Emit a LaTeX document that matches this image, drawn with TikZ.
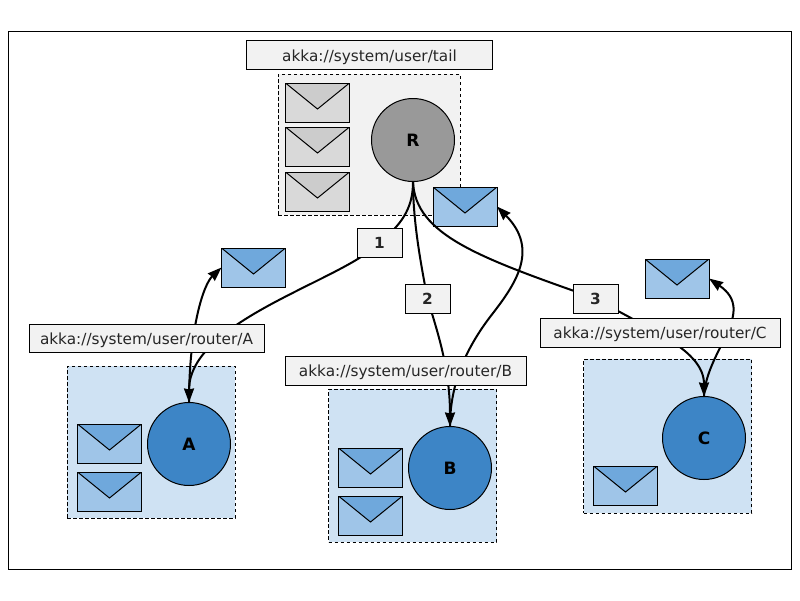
\documentclass[tikz,border=0pt]{standalone}
\usepackage{fontspec}
\setmainfont{DejaVu Sans}
\usepackage{xcolor}
\usepackage{tikz}
\usetikzlibrary{arrows.meta}
\definecolor{lightgray}{HTML}{F2F2F2}
\definecolor{mailgray}{HTML}{D9D9D9}
\definecolor{flapgray}{HTML}{CCCCCC}
\definecolor{actorgray}{HTML}{999999}
\definecolor{lightblue}{HTML}{CFE2F3}
\definecolor{mailblue}{HTML}{9FC5E8}
\definecolor{flapblue}{HTML}{6FA8DC}
\definecolor{actorblue}{HTML}{3D85C6}
\pgfdeclarelayer{front}
\pgfsetlayers{main,front}
\tikzset{
  txt/.style={text=black!85, font=\fontsize{15.3}{17}\selectfont},
  numlabel/.style={draw, fill=lightgray, line width=1pt, inner sep=0pt, outer sep=0pt, txt, minimum width=45pt, minimum height=29pt},
  pathlabel/.style={numlabel, text height=12pt, text depth=0pt},
  actorbox/.style={draw, dashed, dash pattern=on 3.5pt off 2.5pt, line width=1pt, inner sep=0pt, outer sep=0pt, minimum width=168pt},
  actor/.style={draw, circle, line width=1pt, inner sep=0pt, outer sep=0pt, minimum size=83pt, font=\fontsize{17}{19}\selectfont\bfseries},
  mail/.style 2 args={draw, line width=1pt, inner sep=0pt, outer sep=0pt, minimum width=64pt, minimum height=39pt, fill=#1,
    path picture={
      \fill[#2] (path picture bounding box.north west) -- ([yshift=-26pt]path picture bounding box.north) -- (path picture bounding box.north east) -- cycle;
      \draw[line width=1pt] (path picture bounding box.north west) -- ([yshift=-26pt]path picture bounding box.north) -- (path picture bounding box.north east);
    }},
  flow/.style={line width=2pt, >={Stealth[length=14pt,width=10pt,inset=1pt]}}
}
\begin{document}
\begin{tikzpicture}[x=1pt,y=-1pt]
  \useasboundingbox (0,0) rectangle (800,600);
  \draw[line width=1pt] (8.5,31.5) rectangle (791,569);

  % Tail actor with its mailbox
  \node[actorbox, fill=lightgray, minimum width=182pt, minimum height=141pt] (boxR) at (369,144.5) {};
  \node[mail={mailgray}{flapgray}] (mailR1) at (317.5,102.5) {};
  \node[mail={mailgray}{flapgray}] (mailR2) at (317.5,146.5) {};
  \node[mail={mailgray}{flapgray}] (mailR3) at (317.5,191.5) {};
  \node[actor, fill=actorgray] (R) at (413,140) {R};

  % Routees
  \node[actorbox, fill=lightblue, minimum height=152pt] (boxA) at (151,442) {};
  \node[mail={mailblue}{flapblue}] (mailA1) at (109.5,443.5) {};
  \node[mail={mailblue}{flapblue}] (mailA2) at (109.5,491.5) {};
  \node[actor, fill=actorblue] (A) at (189,444) {A};

  \node[actorbox, fill=lightblue, minimum height=153pt] (boxB) at (412.5,465.5) {};
  \node[mail={mailblue}{flapblue}] (mailB1) at (370.5,467.5) {};
  \node[mail={mailblue}{flapblue}] (mailB2) at (370.5,515.5) {};
  \node[actor, fill=actorblue] (B) at (450,468) {B};

  \node[actorbox, fill=lightblue, minimum height=154pt] (boxC) at (667.5,436) {};
  \node[mail={mailblue}{flapblue}] (mailC1) at (625.5,485.5) {};
  \node[actor, fill=actorblue] (C) at (704,438) {C};

  % Replies on their way back
  \node[mail={mailblue}{flapblue}] (sentA) at (253.5,267.5) {};
  \node[mail={mailblue}{flapblue}] (sentB) at (465,206.5) {};
  \node[mail={mailblue}{flapblue}] (sentC) at (677,278.5) {};

  % Labels sit above the connectors
  \begin{pgfonlayer}{front}
    \node[pathlabel, minimum width=246pt] (tail) at (369.5,55) {akka://system/user/tail};
    \node[pathlabel, minimum width=235pt, minimum height=28pt] (pathA) at (146.5,338) {akka://system/user/router/A};
    \node[pathlabel, minimum width=241pt] (pathB) at (405.5,370.5) {akka://system/user/router/B};
    \node[pathlabel, minimum width=240pt] (pathC) at (660,332.5) {akka://system/user/router/C};
    \node[numlabel] (one) at (379.5,242.5) {\bfseries 1};
    \node[numlabel] (two) at (427.5,298.5) {\bfseries 2};
    \node[numlabel] (three) at (595.5,298.5) {\bfseries 3};
  \end{pgfonlayer}

  % Messages sent out from the tail actor
  \draw[flow, ->] (R.south) .. controls (413,205) and (405,222) .. (one.center) .. controls (345,280) and (189,320) .. (A.north);
  \draw[flow, ->] (R.south) .. controls (413,220) and (420,260) .. (two.center) .. controls (435,325) and (450,365) .. (B.north);
  \draw[flow, ->] (R.south) .. controls (415,235) and (480,258) .. (three.center) .. controls (650,330) and (704,350) .. (C.north);

  % Replies from the routees
  \draw[flow, ->] (A.north) .. controls (189,330) and (203,285) .. (sentA.west);
  \draw[flow, ->] (B.north) .. controls (450,385) and (465,350) .. (490,317) .. controls (515,285) and (540,250) .. (sentB.east);
  \draw[flow, ->] (C.north) .. controls (706,350) and (758,312) .. (sentC.east);
\end{tikzpicture}
\end{document}
